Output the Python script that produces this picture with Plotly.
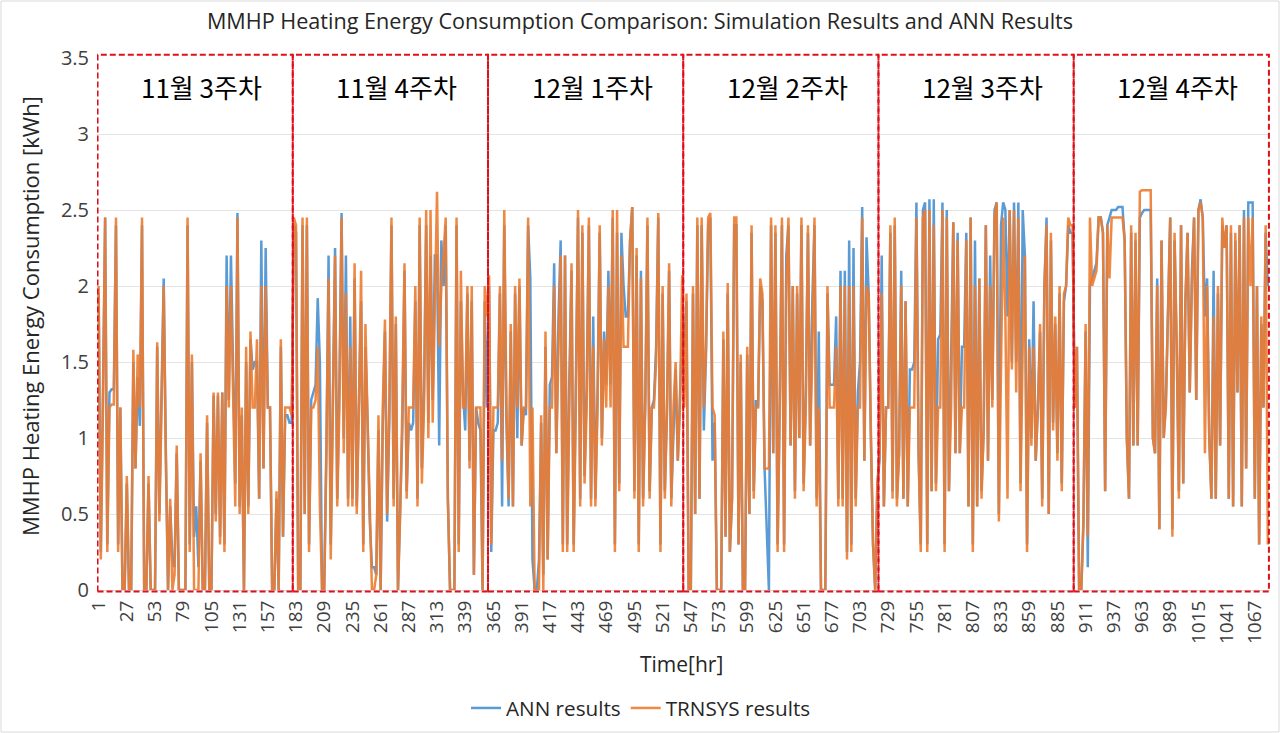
import plotly.graph_objects as go

# ---------------- data (2-hour samples) ----------------
week_labels = ["11월 3주차", "11월 4주차", "12월 1주차", "12월 2주차", "12월 3주차", "12월 4주차"]
week_start_hours = [1, 181, 361, 541, 721, 901]
week_length = 180
sample_step = 2
x_tick_values = list(range(1, 1080, 26))

trnsys_w1 = [2.0, 0.2, 1.2, 2.45, 0.25, 1.2, 1.22, 1.22, 2.45, 0.25,
             1.2, 0, 0, 0.75, 0, 0, 1.58, 0.8, 1.55, 1.2,
             2.45, 0, 0, 0.75, 0, 0, 0, 1.63, 0.45, 1.2,
             2.0, 0.85, 0, 0.6, 0, 0.1, 0.95, 0, 0, 0,
             0, 2.45, 0.25, 1.55, 0, 0, 0, 0.9, 0, 0,
             1.15, 0, 0, 1.3, 0.45, 1.3, 0.3, 1.3, 0.25, 2.0,
             1.2, 2.0, 1.25, 0.55, 2.45, 0.5, 1.2, 0, 1.6, 0.5,
             1.7, 1.2, 1.2, 1.65, 0.6, 2.0, 0.8, 2.0, 1.2, 1.2,
             0, 0, 0.65, 0, 1.65, 0.35, 1.2, 1.2, 1.2, 1.15]
ann_w1 = [1.95, 0.25, 1.3, 2.45, 0.3, 1.3, 1.32, 1.32, 2.4, 0.3,
          1.2, 0, 0, 0.7, 0, 0, 1.5, 0.8, 1.4, 1.08,
          2.4, 0, 0, 0.7, 0, 0, 0, 1.6, 0.5, 1.3,
          2.05, 0.9, 0, 0.55, 0.2, 0.15, 0.9, 0, 0, 0,
          0, 2.4, 0.3, 1.5, 0.35, 0.55, 0.15, 0.85, 0, 0,
          1.1, 0, 0, 1.28, 0.5, 1.28, 0.35, 1.3, 0.3, 2.2,
          1.25, 2.2, 1.3, 0.7, 2.48, 0.55, 1.15, 0, 1.5, 0.55,
          1.65, 1.45, 1.5, 1.5, 0.6, 2.3, 0.8, 2.25, 1.2, 1.2,
          0, 0, 0.6, 0, 1.6, 0.35, 1.15, 1.15, 1.1, 1.1]

trnsys_w2 = [2.45, 2.4, 0, 0, 2.45, 0.5, 2.45, 0.25, 1.2, 1.2,
             1.25, 1.6, 0.55, 0, 0, 0.95, 2.05, 0.2, 1.2, 2.2,
             0.55, 1.2, 2.45, 0.9, 1.95, 0.55, 1.6, 0.55, 2.15, 0.5,
             1.2, 2.1, 0.25, 1.75, 1.1, 0.5, 0, 0, 0.1, 1.15,
             0, 1.2, 1.78, 0.5, 1.2, 2.45, 0.55, 1.8, 0, 0.5,
             1.2, 2.15, 0.6, 1.2, 1.2, 1.2, 2.0, 0.55, 2.45, 0.7,
             1.2, 2.5, 1.0, 2.5, 1.1, 2.0, 2.62, 1.6, 2.0, 2.2,
             2.45, 0.6, 0, 0, 0, 2.45, 0.25, 2.1, 1.2, 1.2,
             2.0, 0.8, 2.0, 0.1, 1.2, 1.2, 1.2, 0, 2.0, 1.8]
ann_w2 = [2.4, 2.35, 0, 0, 2.4, 0.5, 2.4, 0.3, 1.25, 1.3,
          1.35, 1.92, 1.5, 0, 0, 0.9, 2.2, 0.3, 1.3, 2.25,
          0.6, 1.37, 2.48, 1.0, 2.2, 0.6, 1.8, 0.6, 2.05, 0.55,
          1.25, 1.9, 0.3, 1.6, 1.1, 0.45, 0.15, 0.15, 0.1, 1.05,
          0, 1.1, 1.7, 0.45, 1.1, 2.4, 0.6, 1.75, 0, 0.55,
          1.05, 2.1, 0.65, 1.1, 1.05, 1.1, 1.9, 0.6, 2.4, 0.8,
          1.3, 2.4, 1.1, 2.2, 1.25, 2.2, 2.2, 0.95, 2.3, 2.0,
          2.4, 0.6, 0, 0, 0, 2.4, 0.3, 1.9, 1.3, 1.05,
          1.95, 0.85, 1.9, 0.1, 1.2, 1.1, 1.05, 0, 1.9, 1.2]

trnsys_w3 = [2.07, 0.3, 1.2, 1.2, 1.2, 2.0, 0.85, 2.5, 1.2, 0.6,
             1.75, 0.55, 2.0, 1.2, 2.05, 0.95, 1.2, 1.2, 2.45, 0.55,
             1.2, 0, 0, 0, 1.15, 0, 1.7, 0.2, 1.2, 1.2,
             2.0, 0.9, 1.6, 2.2, 0.25, 2.2, 0.25, 1.2, 2.15, 0.25,
             1.2, 2.5, 0.55, 2.4, 0.7, 1.2, 2.45, 0.55, 1.6, 0.55,
             1.2, 2.4, 0.95, 1.65, 1.2, 2.0, 1.2, 2.5, 0.25, 2.5,
             0.65, 2.2, 1.6, 1.6, 1.6, 2.3, 2.52, 0.6, 2.25, 0.25,
             2.05, 0.55, 1.2, 2.45, 0.6, 1.2, 1.2, 1.5, 2.48, 0.25,
             2.0, 0.6, 1.2, 2.15, 0.55, 1.2, 1.5, 0.85, 1.2, 2.07]
ann_w3 = [2.0, 0.25, 1.05, 1.05, 1.1, 1.95, 0.55, 2.4, 1.1, 0.55,
          1.7, 0.55, 1.95, 1.0, 2.0, 0.95, 1.2, 1.15, 2.4, 2.05,
          0.2, 0, 0, 0.2, 1.1, 0.1, 1.6, 0.2, 1.35, 1.4,
          2.15, 0.9, 1.8, 2.3, 0.3, 2.2, 0.3, 1.4, 2.1, 0.3,
          1.4, 2.45, 0.6, 2.35, 0.75, 1.35, 2.4, 0.6, 1.8, 0.6,
          1.3, 2.35, 1.0, 1.7, 1.35, 2.1, 1.35, 2.45, 0.3, 2.35,
          0.7, 2.35, 2.0, 1.8, 1.8, 2.3, 2.52, 0.65, 2.2, 0.3,
          2.1, 0.6, 1.25, 2.4, 0.65, 1.2, 1.25, 1.6, 2.45, 0.3,
          1.95, 0.65, 1.15, 2.1, 0.6, 1.1, 1.45, 0.85, 1.3, 1.7]

trnsys_w4 = [1.2, 1.95, 0, 0, 2.0, 0.5, 2.45, 0.6, 2.45, 1.2,
             1.6, 2.45, 2.48, 1.2, 1.15, 0, 0, 0, 1.7, 0.35,
             2.02, 0.25, 0.6, 2.45, 2.45, 0.3, 1.55, 0, 0, 1.6,
             0.5, 2.4, 0.6, 1.2, 1.2, 2.05, 1.95, 0.8, 0.8, 0.8,
             2.45, 0.9, 2.4, 0.25, 1.2, 2.45, 0.25, 2.0, 2.45, 0.95,
             2.0, 0.6, 2.0, 1.0, 2.45, 0.65, 1.2, 2.4, 0.95, 1.55,
             2.45, 0.55, 1.2, 0, 0, 0, 2.0, 1.2, 1.2, 1.2,
             1.6, 0.55, 2.0, 0.55, 2.0, 0.2, 2.0, 0.25, 2.0, 0.55,
             1.2, 1.2, 2.45, 0.85, 2.0, 1.95, 1.05, 0.3, 0, 0.7]
ann_w4 = [1.6, 1.9, 0, 0, 1.95, 0.5, 2.4, 0.6, 2.4, 1.05,
          1.55, 2.4, 2.45, 0.85, 1.1, 0, 0, 0, 1.65, 0.35,
          1.95, 0.25, 0.6, 2.4, 2.4, 0.3, 1.5, 0, 0, 1.55,
          0.5, 2.35, 0.65, 1.25, 1.2, 2.0, 1.9, 0.8, 0.4, 0,
          2.4, 0.9, 2.35, 0.3, 1.25, 2.4, 0.3, 2.2, 2.4, 0.95,
          2.0, 0.65, 1.95, 1.0, 2.4, 0.7, 1.3, 2.35, 0.95, 1.9,
          2.4, 0.6, 1.7, 0, 0, 0, 1.95, 1.35, 1.35, 1.35,
          1.8, 0.6, 2.1, 0.6, 2.1, 0.25, 2.3, 0.3, 2.25, 0.6,
          1.3, 1.5, 2.52, 0.85, 2.32, 1.95, 1.0, 0.3, 0, 0.7]

trnsys_w5 = [0.9, 1.95, 0.55, 1.2, 1.2, 2.4, 0.6, 2.45, 0.55, 0.9,
             2.0, 0.6, 1.9, 0.55, 1.2, 1.2, 1.2, 2.45, 0.9, 0.25,
             2.45, 2.5, 0.25, 2.5, 0.65, 2.4, 0.65, 1.2, 1.2, 2.5,
             0.25, 2.45, 0.65, 1.2, 2.42, 0.9, 2.3, 0.9, 1.2, 1.2,
             2.3, 0.55, 2.45, 0.25, 2.0, 0.55, 2.05, 0.6, 1.05, 2.4,
             0.85, 2.0, 1.2, 2.45, 2.55, 0.45, 1.5, 2.45, 1.8, 0.6,
             2.5, 1.45, 2.5, 1.3, 2.45, 0.65, 1.6, 2.2, 0.25, 1.6,
             0.95, 1.6, 0.85, 1.2, 1.75, 0.55, 2.0, 2.4, 0.5, 2.35,
             1.05, 1.8, 0.85, 2.0, 0.65, 1.95, 2.0, 2.45, 2.4, 2.4]
ann_w5 = [0.85, 2.2, 0.55, 1.2, 1.2, 2.35, 0.65, 2.4, 0.6, 0.9,
          2.1, 0.6, 1.9, 0.55, 1.45, 1.45, 1.5, 2.55, 0.9, 0.3,
          2.5, 2.55, 0.3, 2.57, 0.65, 2.57, 0.7, 1.65, 1.68, 2.55,
          0.3, 2.5, 0.65, 1.65, 2.42, 0.9, 2.35, 0.9, 1.6, 1.6,
          2.35, 0.55, 2.45, 0.3, 2.3, 0.55, 2.05, 0.65, 1.05, 2.4,
          0.85, 2.2, 1.25, 2.5, 2.55, 0.5, 2.4, 2.55, 2.5, 1.8,
          2.5, 1.5, 2.55, 1.5, 2.55, 0.7, 2.5, 2.2, 0.3, 1.65,
          1.0, 1.9, 0.85, 1.2, 1.7, 0.6, 2.0, 2.45, 0.5, 2.3,
          1.1, 1.75, 0.9, 1.95, 0.7, 1.9, 2.0, 2.4, 2.35, 2.35]

trnsys_w6 = [1.2, 1.6, 0, 0, 0.45, 1.75, 0.35, 2.45, 2.0, 2.05,
             2.1, 2.45, 2.45, 2.35, 0.65, 2.4, 2.05, 2.45, 2.45, 2.45,
             2.45, 2.45, 2.45, 2.3, 1.0, 0.6, 2.4, 0.95, 2.35, 0.95,
             2.62, 2.63, 2.63, 2.63, 2.63, 2.63, 1.0, 0.9, 2.0, 0.4,
             2.3, 1.0, 1.2, 1.95, 2.45, 0.35, 2.35, 1.6, 0.6, 2.4,
             0.7, 1.9, 2.35, 1.3, 2.0, 2.45, 1.25, 2.5, 2.55, 2.45,
             0.9, 2.0, 1.0, 0.6, 1.8, 0.6, 2.0, 0.95, 2.45, 2.25,
             2.4, 0.6, 2.4, 0.55, 2.35, 1.3, 2.4, 0.55, 2.45, 0.8,
             2.45, 2.0, 2.45, 0.6, 2.0, 0.3, 1.8, 1.2, 2.4, 0.3]
ann_w6 = [1.2, 1.6, 0, 0, 0.45, 1.7, 0.15, 2.0, 2.05, 2.1,
          2.15, 2.45, 2.45, 2.35, 0.65, 2.4, 2.45, 2.5, 2.5, 2.5,
          2.52, 2.52, 2.52, 2.3, 1.0, 0.6, 2.35, 0.95, 2.3, 0.95,
          2.45, 2.48, 2.5, 2.5, 2.5, 2.5, 1.0, 0.9, 2.05, 0.4,
          2.3, 1.0, 1.25, 1.95, 2.45, 0.4, 2.3, 1.6, 0.65, 2.4,
          0.7, 1.9, 2.35, 1.3, 2.1, 2.45, 1.25, 2.5, 2.57, 2.45,
          1.8, 2.05, 1.0, 0.6, 2.1, 0.6, 1.95, 0.95, 2.4, 2.25,
          2.4, 0.6, 2.35, 0.55, 2.3, 1.3, 2.4, 0.55, 2.5, 0.8,
          2.55, 2.55, 2.55, 0.6, 2.0, 0.3, 1.75, 1.2, 2.35, 2.0]

trnsys_weeks = [trnsys_w1, trnsys_w2, trnsys_w3, trnsys_w4, trnsys_w5, trnsys_w6]
ann_weeks = [ann_w1, ann_w2, ann_w3, ann_w4, ann_w5, ann_w6]


def build_series(weeks):
    xs, ys = [], []
    for start, vals in zip(week_start_hours, weeks):
        for i, v in enumerate(vals):
            xs.append(start + sample_step * i)
            ys.append(v)
    return xs, ys


ann_x, ann_y = build_series(ann_weeks)
trn_x, trn_y = build_series(trnsys_weeks)

# ---------------- figure ----------------
LATIN = "Open Sans, Noto Sans CJK KR, sans-serif"
KOR = "Noto Sans CJK KR, sans-serif"
TXT = "#262626"

fig = go.Figure()
fig.add_trace(go.Scatter(x=ann_x, y=ann_y, mode="lines", name="ANN results",
                         line=dict(color="#5B9BD5", width=2.5)))
fig.add_trace(go.Scatter(x=trn_x, y=trn_y, mode="lines", name="TRNSYS results",
                         line=dict(color="#ED7D31", width=2.5), opacity=0.9))

W, H = 1280, 733
L, R, T, B = 97, 10, 58, 143
pw, ph = W - L - R, H - T - B

shapes = []
for i, start in enumerate(week_start_hours):
    shapes.append(dict(type="rect", xref="x", yref="paper",
                       x0=start - 1, x1=start - 1 + week_length,
                       y0=-0.003, y1=1.006,
                       line=dict(color="#E0101A", width=2, dash="6px,3px"),
                       fillcolor="rgba(0,0,0,0)", layer="above"))
# chart-area border
shapes.append(dict(type="rect", xref="paper", yref="paper",
                   x0=(1 - L) / pw, x1=(W - 1 - L) / pw,
                   y0=-(B - 1) / ph, y1=1 + (T - 1) / ph,
                   line=dict(color="#D9D9D9", width=1), fillcolor="rgba(0,0,0,0)"))

annotations = []
for start, lab in zip(week_start_hours, week_labels):
    annotations.append(dict(x=start - 1 + week_length / 2 + 6, y=3.31, xref="x", yref="y",
                            text=lab, showarrow=False,
                            font=dict(family=KOR, size=26, color="#000000")))
annotations.append(dict(x=(681 - L) / pw, y=(590 - 664) / ph, xref="paper", yref="paper",
                        text="Time[hr]", showarrow=False, yanchor="middle",
                        font=dict(family=LATIN, size=21, color=TXT)))
annotations.append(dict(x=(30 - L) / pw, y=(590 - 316) / ph, xref="paper", yref="paper",
                        text="MMHP Heating Energy Consumption [kWh]", showarrow=False,
                        textangle=-90, xanchor="center", yanchor="middle",
                        font=dict(family=LATIN, size=22, color=TXT)))

fig.update_layout(
    width=W, height=H,
    margin=dict(l=L, r=R, t=T, b=B, autoexpand=False),
    paper_bgcolor="white", plot_bgcolor="white",
    title=dict(text="MMHP Heating Energy Consumption Comparison: Simulation Results and ANN Results",
               x=(640 - L) / pw, xref="paper", xanchor="center", y=1 - 21 / H, yanchor="middle",
               font=dict(family=LATIN, size=21.6, color=TXT)),
    xaxis=dict(range=[-0.5, 1081], tickmode="array", tickvals=x_tick_values,
               ticktext=[str(v) for v in x_tick_values], tickangle=-90,
               showgrid=False, zeroline=False, showline=True, linecolor="#D9D9D9",
               ticks="", automargin=False, ticklabelstandoff=2,
               tickfont=dict(family=LATIN, size=19, color="#404040")),
    yaxis=dict(range=[0, 3.5], dtick=0.5, showgrid=True, gridcolor="#E4E4E4",
               zeroline=False, showline=False, ticks="", automargin=False,
               ticklabelstandoff=7,
               tickfont=dict(family=LATIN, size=20, color="#404040")),
    legend=dict(orientation="h", x=(641 - L) / pw, xanchor="center", y=(590 - 708) / ph,
                yanchor="middle",
                font=dict(family=LATIN, size=20.7, color=TXT), itemwidth=30,
                bgcolor="rgba(0,0,0,0)"),
    shapes=shapes, annotations=annotations,
)

fig.write_html("out.html", config={"displayModeBar": False},
               post_script="document.body.style.margin='0px';document.body.style.overflow='hidden';")
